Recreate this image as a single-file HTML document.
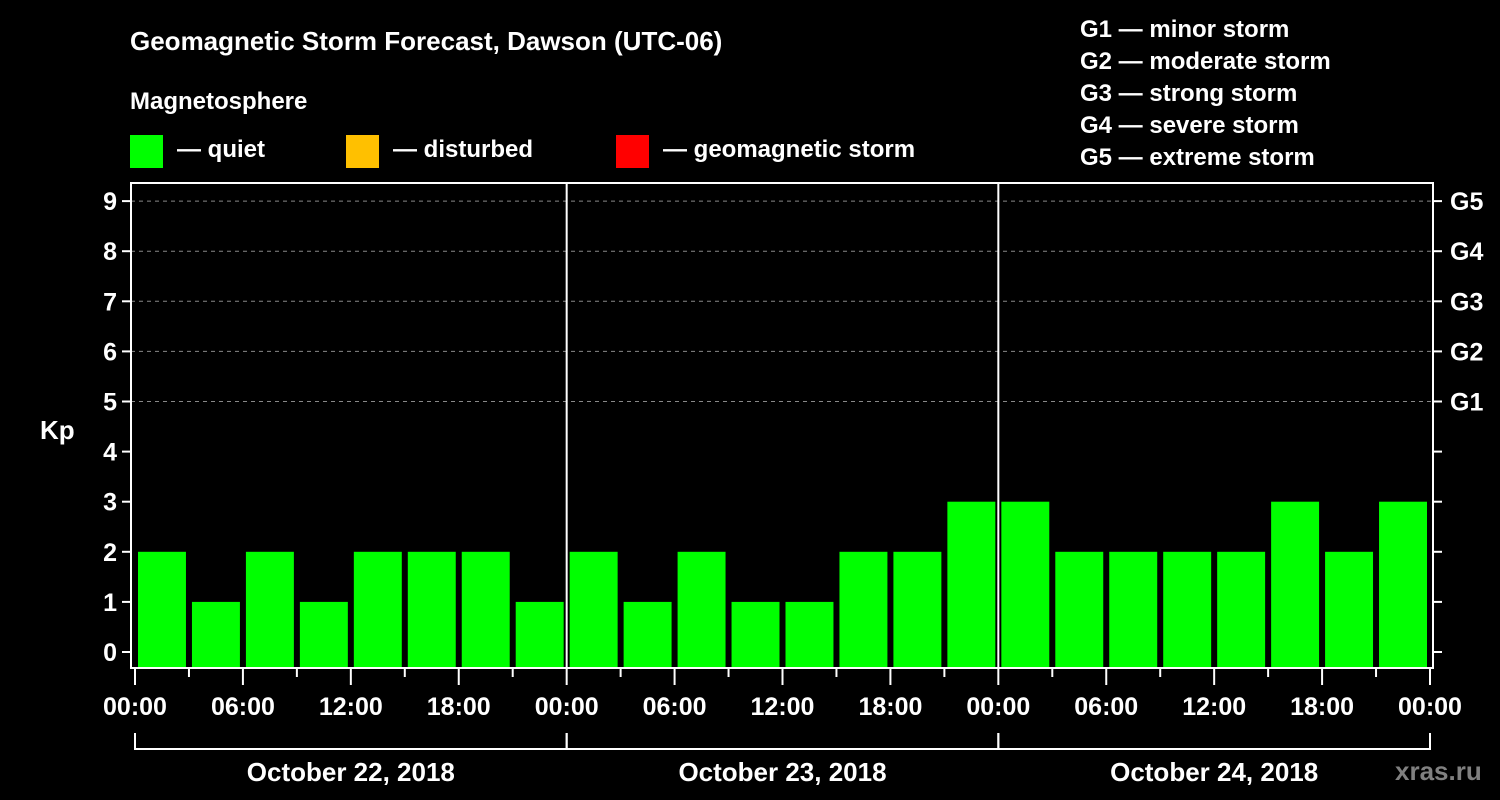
<!DOCTYPE html>
<html><head><meta charset="utf-8"><style>
html,body{margin:0;padding:0;background:#000;}
svg{display:block;font-family:"Liberation Sans",Arial,sans-serif;font-weight:bold;}
</style></head><body>
<svg id="c" width="1500" height="800" viewBox="0 0 1500 800">
<rect width="1500" height="800" fill="#000"/>
<text x="130" y="50" fill="#fff" font-size="26">Geomagnetic Storm Forecast, Dawson (UTC-06)</text>
<text x="130" y="109" fill="#fff" font-size="24">Magnetosphere</text>
<g><rect x="130" y="135" width="33" height="33" fill="#00ff00"/><text x="177" y="157" fill="#fff" font-size="24">— quiet</text></g>
<g><rect x="346" y="135" width="33" height="33" fill="#ffc000"/><text x="393" y="157" fill="#fff" font-size="24">— disturbed</text></g>
<g><rect x="616" y="135" width="33" height="33" fill="#ff0000"/><text x="663" y="157" fill="#fff" font-size="24">— geomagnetic storm</text></g>
<g fill="#fff" font-size="24">
<text x="1080" y="37">G1 — minor storm</text>
<text x="1080" y="69">G2 — moderate storm</text>
<text x="1080" y="101">G3 — strong storm</text>
<text x="1080" y="133">G4 — severe storm</text>
<text x="1080" y="165">G5 — extreme storm</text>
</g>
<text x="40" y="439" fill="#fff" font-size="26">Kp</text>
<text x="1395" y="780" fill="#808080" font-size="26">xras.ru</text>
<g id="grid"></g><g id="bars"></g><g id="axes"></g>
</svg>
<script>
const days = ["October 22, 2018","October 23, 2018","October 24, 2018"];
const kpValues = [2,1,2,1,2,2,2,1, 2,1,2,1,1,2,2,3, 3,2,2,2,2,3,2,3];
const yTicks = [0,1,2,3,4,5,6,7,8,9];
const gLabels = ["G1","G2","G3","G4","G5"];
const xTickLabels = ["00:00","06:00","12:00","18:00"];
const NS="http://www.w3.org/2000/svg";
const X0=135, X1=1430, Y0=652, DY=50.1, LEFT=131, RIGHT=1433, TOP=183, BOT=668;
const hours=72;
function xs(h){return X0+(X1-X0)*h/hours;}
function ys(v){return Y0-DY*v;}
function mk(tag,attrs,parent,text){const e=document.createElementNS(NS,tag);for(const k in attrs)e.setAttribute(k,attrs[k]);if(text!=null)e.textContent=text;parent.appendChild(e);return e;}
const grid=document.getElementById('grid'),bars=document.getElementById('bars'),axes=document.getElementById('axes');
// gridlines for kp >=5
yTicks.forEach(v=>{ if(v>=5){const l=mk('line',{x1:LEFT,x2:RIGHT,y1:ys(v),y2:ys(v),stroke:'#888','stroke-dasharray':'4,4','stroke-width':1},grid);

}});
const slot=(hours/kpValues.length);
kpValues.forEach((v,i)=>{
 const xa=xs(i*slot)+3, xb=xs((i+1)*slot)-3;
 const col=v>=5?'#ff0000':(v>=4?'#ffc000':'#00ff00');
 const r=mk('rect',{x:xa,y:ys(v),width:xb-xa,height:BOT-1-ys(v),fill:col},bars);
 
 
});
// frame
const fr=mk('path',{d:`M${LEFT},${BOT} L${LEFT},${TOP} L${RIGHT},${TOP} L${RIGHT},${BOT} Z`,fill:'none',stroke:'#fff','stroke-width':2},axes);


// day separators
for(let d=1;d<days.length;d++){const x=xs(d*24);const l=mk('line',{x1:x,x2:x,y1:TOP,y2:BOT,stroke:'#fff','stroke-width':2},axes);

}
// y ticks
yTicks.forEach(v=>{const y=ys(v);
 mk('line',{x1:LEFT-9,x2:LEFT,y1:y,y2:y,stroke:'#fff','stroke-width':2},axes);
 mk('line',{x1:RIGHT,x2:RIGHT+9,y1:y,y2:y,stroke:'#fff','stroke-width':2},axes);
 const t=mk('text',{x:LEFT-14,y:y+9,fill:'#fff','font-size':25,'text-anchor':'end'},axes,String(v));
 
 
 if(v>=5){const g=mk('text',{x:1450,y:y+9,fill:'#fff','font-size':25},axes,gLabels[v-5]);
 
 }
});
// x ticks
for(let h=0;h<=hours;h+=3){const x=xs(h);const major=h%6===0;
 mk('line',{x1:x,x2:x,y1:BOT,y2:BOT+(major?17:9),stroke:'#fff','stroke-width':2},axes);
 if(major){const t=mk('text',{x:x,y:715,fill:'#fff','font-size':25,'text-anchor':'middle'},axes,xTickLabels[(h/6)%4]);
 
 }
}
// day brackets
days.forEach((d,i)=>{const xa=xs(i*24),xb=xs((i+1)*24);
 mk('path',{d:`M${xa},733 L${xa},749 L${xb},749 L${xb},733`,fill:'none',stroke:'#fff','stroke-width':2},axes);
 const t=mk('text',{x:(xa+xb)/2,y:781,fill:'#fff','font-size':26,'text-anchor':'middle'},axes,d);
 
 
});
</script>
</body></html>
